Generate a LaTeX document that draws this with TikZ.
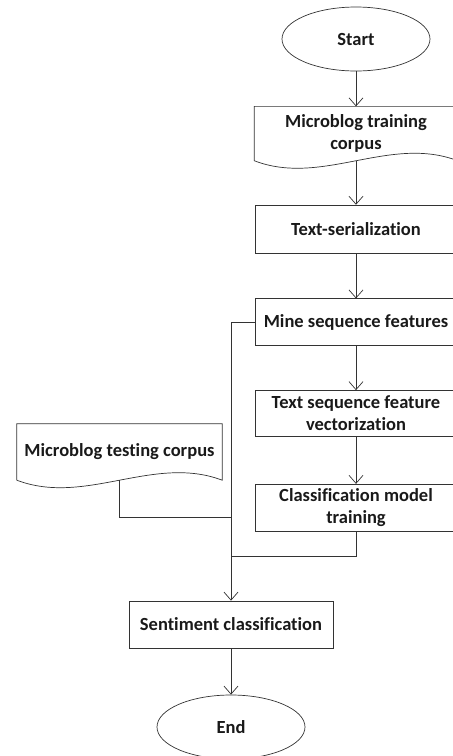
\documentclass[tikz,border=0pt]{standalone}
\usepackage{fontspec}
\setmainfont[Ligatures=CommonOff]{Carlito}
\usetikzlibrary{shapes.geometric,arrows.meta,positioning,calc}

\begin{document}
\begin{tikzpicture}[
    x=1pt, y=1pt,
    node distance=44pt,
    every node/.style={font=\fontsize{18.5}{22}\selectfont\bfseries, align=center, text=black!90},
    terminal/.style={ellipse, draw=black!80, line width=0.7pt, minimum width=148pt, minimum height=64pt, inner sep=0pt},
    process/.style={rectangle, draw=black!80, line width=0.7pt, minimum width=202pt, minimum height=47pt, inner sep=2pt},
    document/.style={rectangle, minimum width=203pt, minimum height=54pt, inner sep=2pt},
    line/.style={draw=black!80, line width=0.7pt},
    arrow/.style={line, -{Straight Barb[length=8pt, width=14pt]}}
]
    \useasboundingbox (0,0) rectangle (453,-756);

    \node[terminal] (start) at (356,-39) {Start};
    \node[document, below=35pt of start] (train) {Microblog training\\corpus};
    \node[process, below=of train, minimum height=48pt] (serial) {Text-serialization};
    \node[process, below=45pt of serial] (mine) {Mine sequence features};
    \node[process, below=of mine, minimum height=46pt] (vect) {Text sequence feature\\vectorization};
    \node[process, below=47pt of vect] (class) {Classification model\\training};
    \node[document, minimum width=205pt, minimum height=56pt] (test) at (119.5,-452) {Microblog testing corpus};
    \node[process, minimum width=204pt] (sent) at (231,-624.5) {Sentiment classification};
    \node[terminal] (stop) at (231,-727) {End};
    \coordinate (testjoin) at (231,-517);
    \coordinate (classjoin) at (231,-556);

    \foreach \d in {train,test}
        \draw[line] (\d.south west) -- (\d.north west) -- (\d.north east) -- (\d.south east)
            .. controls ($(\d.south east)!0.333!(\d.south west)+(0,26)$) and ($(\d.south east)!0.667!(\d.south west)+(0,-26)$) .. (\d.south west);

    \draw[arrow] (start) -- (train);
    \draw[arrow] (train.south) -- (serial);
    \draw[arrow] (serial) -- (mine);
    \draw[arrow] (mine) -- (vect);
    \draw[arrow] (vect) -- (class);
    \draw[arrow] (mine.west) -| (sent.north);
    \draw[line] (test.south) |- (testjoin);
    \draw[line] (class.south) |- (classjoin);
    \draw[arrow] (sent) -- (stop);
\end{tikzpicture}
\end{document}
